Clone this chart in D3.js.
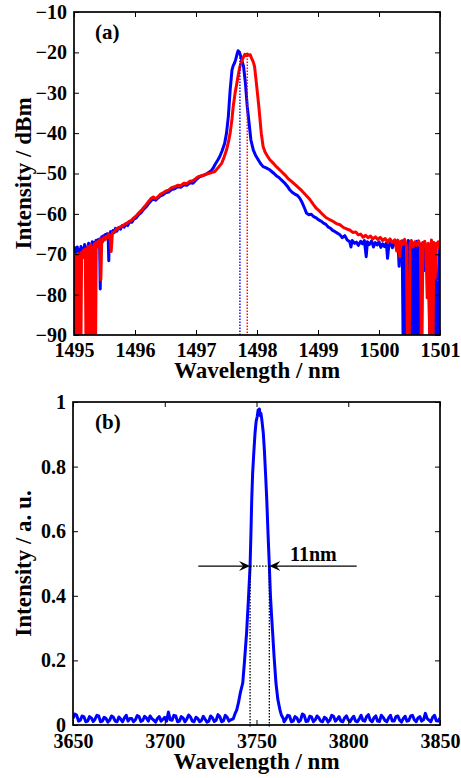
<!DOCTYPE html>
<html>
<head>
<meta charset="utf-8">
<script src="https://cdn.jsdelivr.net/npm/d3@7"></script>
<style>
  body { margin: 0; background: #fff; }
  text { font-family: "Liberation Serif", "Times New Roman", serif; font-weight: bold; fill: #000; }
</style>
</head>
<body>
<div id="chart"></div>
<script>
// ---------- data : panel (a), optical spectrum in dBm ----------
var aXTicks = [1495, 1496, 1497, 1498, 1499, 1500, 1501];
var aYTicks = [-10, -20, -30, -40, -50, -60, -70, -80, -90];

// [wavelength nm, intensity dBm]
var aBlue = [[1495.00,-69.6],[1495.02,-68.4],[1495.04,-69.9],[1495.055,-68.2],[1495.07,-78.6],[1495.085,-68.8],[1495.10,-69.7],[1495.115,-68.1],[1495.13,-70.2],[1495.145,-68.6],[1495.16,-69.3],[1495.175,-67.6],[1495.19,-69.1],[1495.205,-68.4],[1495.21,-100],[1495.225,-68.7],[1495.24,-67.3],[1495.255,-69.0],[1495.27,-67.5],[1495.285,-68.4],[1495.30,-66.9],[1495.315,-68.6],[1495.33,-67.1],[1495.345,-68.0],[1495.36,-66.6],[1495.375,-67.7],[1495.39,-66.4],[1495.405,-67.4],[1495.42,-66.2],[1495.43,-78.6],[1495.44,-66.9],[1495.455,-65.7],[1495.47,-66.8],[1495.485,-65.4],[1495.50,-66.3],[1495.515,-65.1],[1495.53,-66.0],[1495.545,-64.9],[1495.56,-65.8],[1495.57,-71.6],[1495.58,-65.3],[1495.60,-64.4],[1495.62,-65.1],[1495.64,-64.1],[1495.66,-64.6],[1495.68,-63.6],[1495.70,-64.3],[1495.73,-63.4],[1495.76,-63.8],[1495.79,-62.9],[1495.82,-63.3],[1495.85,-62.6],[1495.88,-62.9],[1495.91,-62.0],[1495.95,-62.1],[1495.98,-61.3],[1496.02,-61.0],[1496.06,-60.2],[1496.10,-59.7],[1496.14,-58.9],[1496.18,-58.3],[1496.22,-57.5],[1496.26,-56.8],[1496.30,-56.3],[1496.34,-56.6],[1496.38,-56.0],[1496.42,-55.5],[1496.46,-55.3],[1496.50,-54.8],[1496.55,-54.6],[1496.60,-54.0],[1496.65,-53.8],[1496.70,-53.3],[1496.75,-53.4],[1496.80,-52.8],[1496.85,-52.9],[1496.90,-52.3],[1496.95,-52.4],[1497.00,-51.6],[1497.05,-50.9],[1497.10,-50.6],[1497.15,-50.3],[1497.20,-49.8],[1497.25,-49.3],[1497.28,-48.7],[1497.32,-47.6],[1497.36,-46.6],[1497.39,-45.8],[1497.43,-44.3],[1497.47,-42.5],[1497.50,-40.0],[1497.53,-35.9],[1497.56,-29.3],[1497.59,-24.4],[1497.61,-23.3],[1497.63,-22.7],[1497.65,-21.8],[1497.67,-20.6],[1497.69,-19.6],[1497.71,-19.9],[1497.73,-20.8],[1497.75,-21.9],[1497.78,-23.5],[1497.81,-27.6],[1497.84,-33.4],[1497.87,-37.5],[1497.90,-41.7],[1497.94,-44.2],[1497.98,-45.6],[1498.02,-46.6],[1498.06,-47.6],[1498.10,-48.3],[1498.15,-48.6],[1498.20,-49.0],[1498.24,-49.5],[1498.28,-50.0],[1498.32,-50.6],[1498.36,-51.0],[1498.40,-51.6],[1498.45,-52.3],[1498.50,-53.2],[1498.54,-54.1],[1498.58,-54.7],[1498.62,-55.1],[1498.66,-55.4],[1498.70,-56.1],[1498.74,-57.2],[1498.78,-58.6],[1498.81,-59.8],[1498.85,-60.2],[1498.89,-60.1],[1498.93,-60.7],[1498.97,-61.0],[1499.01,-61.5],[1499.05,-61.8],[1499.09,-62.3],[1499.13,-62.6],[1499.17,-63.3],[1499.20,-63.5],[1499.24,-64.1],[1499.28,-64.4],[1499.32,-64.8],[1499.36,-65.2],[1499.40,-65.9],[1499.44,-65.4],[1499.48,-66.5],[1499.52,-66.9],[1499.54,-68.2],[1499.56,-66.6],[1499.60,-67.3],[1499.63,-67.0],[1499.66,-67.8],[1499.70,-66.8],[1499.73,-67.4],[1499.76,-66.6],[1499.79,-70.6],[1499.81,-66.9],[1499.84,-67.6],[1499.88,-66.7],[1499.91,-68.2],[1499.94,-67.1],[1499.97,-67.7],[1500.00,-66.9],[1500.03,-68.3],[1500.06,-67.4],[1500.09,-68.1],[1500.12,-67.2],[1500.14,-71.0],[1500.16,-67.9],[1500.19,-67.0],[1500.22,-68.4],[1500.25,-67.3],[1500.28,-67.8],[1500.31,-66.8],[1500.33,-73.0],[1500.35,-67.5],[1500.38,-66.7],[1500.40,-100],[1500.42,-67.2],[1500.44,-100],[1500.46,-100],[1500.48,-66.6],[1500.50,-68.4],[1500.52,-67.0],[1500.54,-100],[1500.56,-67.4],[1500.58,-100],[1500.60,-67.9],[1500.62,-66.8],[1500.64,-100],[1500.66,-67.3],[1500.69,-68.6],[1500.72,-67.1],[1500.75,-74.0],[1500.78,-67.8],[1500.81,-68.9],[1500.84,-100],[1500.86,-67.5],[1500.89,-100],[1500.91,-68.2],[1500.93,-67.4],[1500.95,-100],[1500.97,-100],[1500.99,-68.0],[1501.00,-84.6]];

var aRed = [[1495.00,-100],[1495.01,-70.8],[1495.025,-100],[1495.04,-70.2],[1495.055,-71.5],[1495.07,-69.8],[1495.085,-100],[1495.10,-70.6],[1495.11,-100],[1495.125,-69.5],[1495.14,-70.9],[1495.155,-69.0],[1495.17,-70.4],[1495.185,-68.7],[1495.20,-100],[1495.215,-69.2],[1495.23,-68.1],[1495.245,-100],[1495.26,-68.9],[1495.275,-67.6],[1495.29,-100],[1495.305,-68.2],[1495.32,-100],[1495.335,-67.4],[1495.35,-100],[1495.365,-67.0],[1495.38,-68.3],[1495.395,-66.8],[1495.41,-67.6],[1495.425,-66.4],[1495.44,-76.3],[1495.455,-66.2],[1495.47,-66.9],[1495.49,-65.8],[1495.51,-66.4],[1495.53,-65.5],[1495.55,-65.9],[1495.57,-65.0],[1495.59,-65.6],[1495.61,-69.3],[1495.63,-64.7],[1495.66,-64.4],[1495.69,-63.9],[1495.72,-63.6],[1495.75,-63.3],[1495.78,-63.1],[1495.81,-62.8],[1495.84,-62.5],[1495.87,-62.3],[1495.90,-61.9],[1495.94,-61.6],[1495.98,-61.0],[1496.02,-60.5],[1496.06,-59.8],[1496.10,-59.2],[1496.14,-58.5],[1496.18,-57.8],[1496.22,-57.0],[1496.26,-56.2],[1496.30,-55.8],[1496.34,-56.3],[1496.38,-55.7],[1496.42,-55.1],[1496.46,-54.8],[1496.50,-54.4],[1496.55,-54.1],[1496.60,-53.5],[1496.65,-53.3],[1496.70,-52.9],[1496.75,-53.0],[1496.80,-52.4],[1496.85,-52.5],[1496.90,-51.9],[1496.95,-51.8],[1497.00,-51.2],[1497.05,-50.7],[1497.10,-50.5],[1497.15,-50.3],[1497.20,-50.0],[1497.25,-49.8],[1497.31,-49.5],[1497.36,-48.6],[1497.42,-47.5],[1497.46,-46.0],[1497.50,-44.2],[1497.53,-42.3],[1497.56,-40.0],[1497.59,-36.5],[1497.61,-33.4],[1497.64,-30.2],[1497.67,-27.6],[1497.70,-25.0],[1497.72,-23.5],[1497.75,-22.1],[1497.78,-21.1],[1497.80,-20.5],[1497.82,-20.8],[1497.84,-20.4],[1497.86,-20.7],[1497.89,-20.6],[1497.91,-21.4],[1497.94,-22.4],[1497.96,-23.5],[1497.99,-27.6],[1498.03,-33.4],[1498.07,-40.0],[1498.10,-43.3],[1498.13,-44.6],[1498.16,-45.4],[1498.21,-46.6],[1498.27,-47.5],[1498.33,-48.5],[1498.40,-49.5],[1498.46,-50.4],[1498.52,-51.4],[1498.57,-52.0],[1498.63,-52.8],[1498.68,-53.5],[1498.73,-54.2],[1498.78,-55.0],[1498.83,-55.8],[1498.87,-56.5],[1498.92,-57.6],[1498.97,-58.6],[1499.03,-59.4],[1499.08,-60.2],[1499.13,-60.9],[1499.20,-61.5],[1499.25,-61.9],[1499.30,-62.4],[1499.36,-62.7],[1499.42,-63.4],[1499.48,-63.8],[1499.52,-64.0],[1499.57,-64.6],[1499.62,-64.5],[1499.66,-65.2],[1499.70,-65.0],[1499.74,-65.8],[1499.78,-65.3],[1499.82,-65.9],[1499.86,-65.5],[1499.90,-66.2],[1499.94,-65.7],[1499.98,-66.3],[1500.02,-65.8],[1500.06,-66.6],[1500.10,-66.1],[1500.14,-66.9],[1500.18,-66.2],[1500.22,-67.1],[1500.26,-66.4],[1500.29,-69.2],[1500.31,-66.5],[1500.34,-70.6],[1500.36,-66.8],[1500.39,-67.6],[1500.42,-66.3],[1500.45,-68.0],[1500.47,-100],[1500.49,-100],[1500.51,-67.4],[1500.53,-66.6],[1500.56,-68.2],[1500.59,-66.9],[1500.62,-67.8],[1500.65,-66.7],[1500.68,-68.5],[1500.70,-100],[1500.72,-67.2],[1500.75,-66.8],[1500.77,-68.1],[1500.79,-80.8],[1500.81,-67.3],[1500.84,-100],[1500.86,-66.5],[1500.88,-100],[1500.90,-67.1],[1500.92,-76.0],[1500.94,-67.6],[1500.97,-66.9],[1501.00,-68.9]];

// dotted peak markers [wavelength, peak dBm]
var aBluePeak = [1497.72, -19.8];
var aRedPeak = [1497.84, -20.8];

// ---------- data : panel (b), mid-IR spectrum, a.u. ----------
var bXTicks = [3650, 3700, 3750, 3800, 3850];
var bYTicks = [0, 0.2, 0.4, 0.6, 0.8, 1];

var bSpectrum = [[3650,0.02],[3651,0.034],[3652,0.03],[3653,0.012],[3654,0.015],[3655,0.028],[3656,0.025],[3657,0.01],[3658,0.012],[3659,0.026],[3660,0.022],[3661,0.011],[3662,0.018],[3663,0.03],[3664,0.028],[3665,0.01],[3666,0.012],[3667,0.024],[3668,0.02],[3669,0.009],[3670,0.015],[3671,0.028],[3672,0.024],[3673,0.012],[3674,0.01],[3675,0.025],[3676,0.018],[3677,0.01],[3678,0.022],[3679,0.03],[3680,0.012],[3681,0.02],[3682,0.02],[3683,0.01],[3684,0.016],[3685,0.029],[3686,0.026],[3687,0.011],[3688,0.014],[3689,0.027],[3690,0.022],[3691,0.012],[3692,0.028],[3693,0.02],[3694,0.015],[3695,0.009],[3696,0.02],[3697,0.026],[3698,0.012],[3699,0.018],[3700,0.024],[3701,0.012],[3702,0.04],[3703,0.016],[3704,0.015],[3705,0.03],[3706,0.028],[3707,0.01],[3708,0.012],[3709,0.026],[3710,0.022],[3711,0.01],[3712,0.018],[3713,0.031],[3714,0.025],[3715,0.012],[3716,0.01],[3717,0.024],[3718,0.02],[3719,0.01],[3720,0.014],[3721,0.027],[3722,0.018],[3723,0.009],[3724,0.012],[3725,0.028],[3726,0.022],[3727,0.011],[3728,0.015],[3729,0.032],[3730,0.026],[3731,0.01],[3732,0.013],[3733,0.03],[3734,0.024],[3735,0.012],[3736,0.016],
  [3737.4,0.02],[3738.3,0.035],[3739.2,0.046],[3740.2,0.07],[3741.2,0.1],[3742.5,0.13],[3743.5,0.2],[3744.6,0.285],[3745.6,0.39],[3746.5,0.492],[3747,0.6],[3747.4,0.697],[3747.9,0.78],[3748.5,0.84],[3749.2,0.904],[3749.8,0.94],[3750.4,0.955],[3750.9,0.975],[3751.3,0.965],[3751.6,0.978],[3752.0,0.958],[3752.4,0.965],[3752.8,0.95],[3753.2,0.93],[3753.7,0.904],[3754.3,0.85],[3755,0.77],[3755.6,0.697],[3756.3,0.59],[3757,0.492],[3757.6,0.4],[3758.2,0.34],[3758.8,0.285],[3759.6,0.21],[3760.6,0.13],[3761.6,0.08],[3762.8,0.046],[3763.6,0.03],[3764.6,0.02],
  [3765,0.01],[3766,0.018],[3767,0.03],[3768,0.028],[3769,0.01],[3770,0.012],[3771,0.026],[3772,0.022],[3773,0.01],[3774,0.015],[3775,0.034],[3776,0.03],[3777,0.011],[3778,0.012],[3779,0.027],[3780,0.025],[3781,0.01],[3782,0.016],[3783,0.028],[3784,0.022],[3785,0.012],[3786,0.01],[3787,0.024],[3788,0.02],[3789,0.009],[3790,0.015],[3791,0.03],[3792,0.027],[3793,0.012],[3794,0.018],[3795,0.026],[3796,0.012],[3797,0.01],[3798,0.022],[3799,0.028],[3800,0.016],[3801,0.01],[3802,0.02],[3803,0.027],[3804,0.012],[3805,0.01],[3806,0.019],[3807,0.03],[3808,0.014],[3809,0.012],[3810,0.026],[3811,0.032],[3812,0.015],[3813,0.01],[3814,0.022],[3815,0.028],[3816,0.012],[3817,0.011],[3818,0.03],[3819,0.024],[3820,0.014],[3821,0.01],[3822,0.022],[3823,0.03],[3824,0.012],[3825,0.012],[3826,0.026],[3827,0.028],[3828,0.015],[3829,0.009],[3830,0.02],[3831,0.027],[3832,0.012],[3833,0.014],[3834,0.028],[3835,0.03],[3836,0.016],[3837,0.01],[3838,0.022],[3839,0.026],[3840,0.012],[3841,0.016],[3842,0.036],[3843,0.02],[3844,0.015],[3845,0.01],[3846,0.024],[3847,0.03],[3848,0.013],[3849,0.012],[3850,0.022]];

// FWHM annotation: edges, half level, arrow tails, label
var bHalfLevel = 0.492;
var bFwhmEdges = [3746.5, 3757.0];
var bArrowTails = [3718.3, 3804.6];
var bFwhmLabel = "11nm";

// ---------- layout ----------
var W = 461, H = 778;
var svg = d3.select("#chart").append("svg")
    .attr("width", W)
    .attr("height", H);

var defs = svg.append("defs");

function drawFrame(g, x, y, xTicks, yTicks, yFmt, xLabelDy) {
    var w = x.range()[1], h = y.range()[0];
    var tl = 5;
    // ticks inward on all four sides
    g.append("g").attr("transform", "translate(0," + h + ")")
        .call(d3.axisBottom(x).tickValues(xTicks).tickSizeInner(-tl).tickSizeOuter(0).tickPadding(xLabelDy).tickFormat(d3.format("d")));
    g.append("g")
        .call(d3.axisTop(x).tickValues(xTicks).tickSizeInner(-tl).tickSizeOuter(0).tickFormat(""));
    g.append("g")
        .call(d3.axisLeft(y).tickValues(yTicks).tickSizeInner(-tl).tickSizeOuter(0).tickPadding(7).tickFormat(yFmt));
    g.append("g").attr("transform", "translate(" + w + ",0)")
        .call(d3.axisRight(y).tickValues(yTicks).tickSizeInner(-tl).tickSizeOuter(0).tickFormat(""));
    g.selectAll(".domain").remove();
    g.selectAll(".tick line").attr("stroke", "#000").attr("stroke-width", 1);
    g.selectAll(".tick text")
        .style("font-family", "'Liberation Serif', 'Times New Roman', serif")
        .style("font-weight", "bold")
        .style("font-size", "20px")
        .attr("fill", "#000");
    g.append("rect")
        .attr("width", w).attr("height", h)
        .attr("fill", "none").attr("stroke", "#000").attr("stroke-width", 1.7);
}

////////// panel (a) //////////
var aM = {left: 74, top: 12}, aW = 366, aH = 323;
var ga = svg.append("g").attr("transform", "translate(" + aM.left + "," + aM.top + ")");
var xa = d3.scaleLinear().domain([1495, 1501]).range([0, aW]);
var ya = d3.scaleLinear().domain([-90, -10]).range([aH, 0]);

defs.append("clipPath").attr("id", "clipA").append("rect").attr("width", aW).attr("height", aH);

var lineA = d3.line().x(d => xa(d[0])).y(d => ya(d[1]));
var plotA = ga.append("g").attr("clip-path", "url(#clipA)");

plotA.append("path").datum(aBlue)
    .attr("d", lineA).attr("fill", "none")
    .attr("stroke", "#0000ff").attr("stroke-width", 3).attr("stroke-linejoin", "round");
plotA.append("path").datum(aRed)
    .attr("d", lineA).attr("fill", "none")
    .attr("stroke", "#ff0000").attr("stroke-width", 3).attr("stroke-linejoin", "round");

// dotted peak lines
[[aBluePeak, "#0000ff"], [aRedPeak, "#ff0000"]].forEach(function(p) {
    plotA.append("line")
        .attr("x1", xa(p[0][0])).attr("x2", xa(p[0][0]))
        .attr("y1", ya(p[0][1])).attr("y2", ya(-90))
        .attr("stroke", p[1]).attr("stroke-width", 1.4)
        .attr("stroke-dasharray", "1.5,1.5");
});

drawFrame(ga, xa, ya, aXTicks, aYTicks, d3.format("d"), 8);

ga.append("text").attr("x", 21).attr("y", 27)
    .style("font-size", "21px").text("(a)");
ga.append("text")
    .attr("x", aW / 2).attr("y", 366)
    .attr("text-anchor", "middle")
    .style("font-size", "23px")
    .text("Wavelength / nm");
ga.append("text")
    .attr("transform", "translate(" + (31 - aM.left) + "," + (aH / 2) + ") rotate(-90)")
    .attr("text-anchor", "middle")
    .style("font-size", "23px")
    .text("Intensity / dBm");

////////// panel (b) //////////
var bM = {left: 73, top: 402}, bW = 367, bH = 323;
var gb = svg.append("g").attr("transform", "translate(" + bM.left + "," + bM.top + ")");
var xb = d3.scaleLinear().domain([3650, 3850]).range([0, bW]);
var yb = d3.scaleLinear().domain([0, 1]).range([bH, 0]);

defs.append("clipPath").attr("id", "clipB").append("rect").attr("width", bW).attr("height", bH);

var lineB = d3.line().x(d => xb(d[0])).y(d => yb(d[1]));
gb.append("g").attr("clip-path", "url(#clipB)")
    .append("path").datum(bSpectrum)
    .attr("d", lineB).attr("fill", "none")
    .attr("stroke", "#0000ff").attr("stroke-width", 3).attr("stroke-linejoin", "round");

// FWHM markers
var ann = gb.append("g");
bFwhmEdges.forEach(function(e) {
    ann.append("line")
        .attr("x1", xb(e)).attr("x2", xb(e))
        .attr("y1", yb(bHalfLevel)).attr("y2", yb(0) + 3)
        .attr("stroke", "#000").attr("stroke-width", 1.3)
        .attr("stroke-dasharray", "1.5,1.5");
});
ann.append("line")
    .attr("x1", xb(bFwhmEdges[0])).attr("x2", xb(bFwhmEdges[1]))
    .attr("y1", yb(bHalfLevel)).attr("y2", yb(bHalfLevel))
    .attr("stroke", "#000").attr("stroke-width", 1.3)
    .attr("stroke-dasharray", "1.5,1.5");

function arrow(fromX, toX) {
    var y0 = yb(bHalfLevel);
    var x0 = xb(fromX), x1 = xb(toX);
    var dir = x1 > x0 ? 1 : -1;
    ann.append("line")
        .attr("x1", x0).attr("x2", x1 - dir * 6)
        .attr("y1", y0).attr("y2", y0)
        .attr("stroke", "#000").attr("stroke-width", 1.2);
    ann.append("path")
        .attr("d", "M0,0 L-11,-5 L-7,0 L-11,5 Z")
        .attr("transform", "translate(" + x1 + "," + y0 + ") scale(" + dir + ",1)")
        .attr("fill", "#000");
}
arrow(bArrowTails[0], bFwhmEdges[0]);
arrow(bArrowTails[1], bFwhmEdges[1]);

ann.append("text")
    .attr("x", xb(3768.3)).attr("y", yb(bHalfLevel) - 5)
    .style("font-size", "20px")
    .text(bFwhmLabel);

drawFrame(gb, xb, yb, bXTicks, bYTicks,
    function(d) { return (d === 0 || d === 1) ? String(d) : d.toFixed(1); }, 9);

gb.append("text").attr("x", 22).attr("y", 27)
    .style("font-size", "21px").text("(b)");
gb.append("text")
    .attr("x", bW / 2).attr("y", 367)
    .attr("text-anchor", "middle")
    .style("font-size", "23px")
    .text("Wavelength / nm");
gb.append("text")
    .attr("transform", "translate(" + (31 - bM.left) + "," + (bH / 2) + ") rotate(-90)")
    .attr("text-anchor", "middle")
    .style("font-size", "23px")
    .text("Intensity / a. u.");
</script>
</body>
</html>
